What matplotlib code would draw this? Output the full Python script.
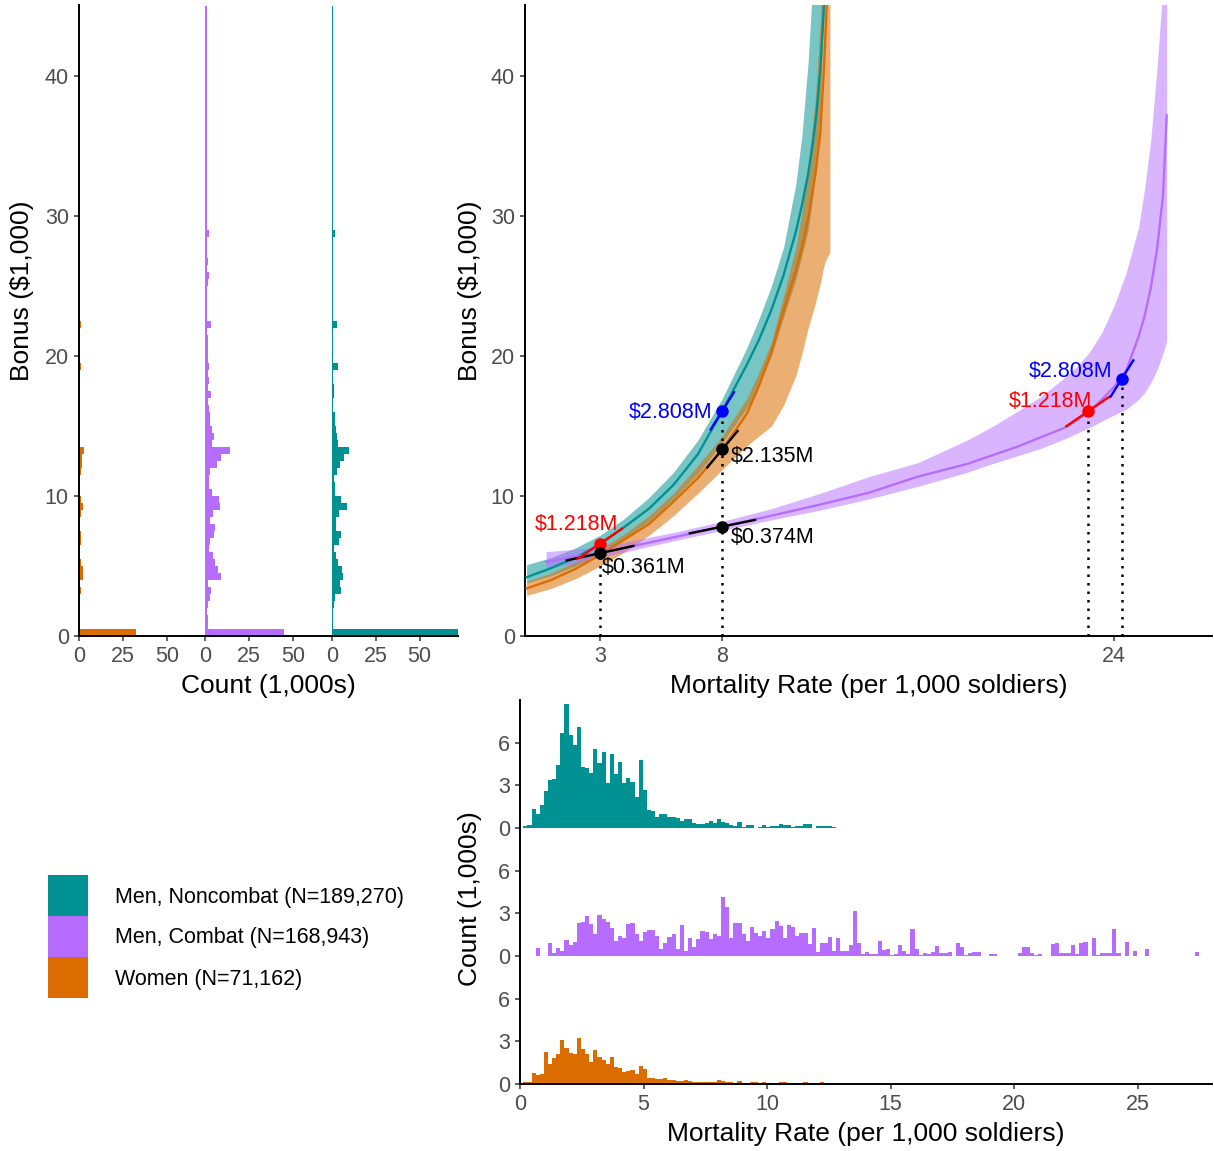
import matplotlib
matplotlib.use("Agg")
import matplotlib.pyplot as plt
from matplotlib.patches import Rectangle
import numpy as np

plt.rcParams['font.family'] = ['Liberation Sans', 'DejaVu Sans']
plt.rcParams['text.parse_math'] = False

TEAL, PURPLE, ORANGE = '#009292', '#B66DFF', '#DB6D00'

# ---------------- data ----------------
groups = ['Men, Noncombat', 'Men, Combat', 'Women']
group_n = ['189,270', '168,943', '71,162']
group_colors = [TEAL, PURPLE, ORANGE]

# bonus histograms (bins of $500, from 0), counts in 1,000s
bonus_bin_width = 0.5
bonus_counts_noncombat = [
    71.8, 1.0, 1.0, 0.9, 1.1, 1.9, 5.1, 4.8, 6.3, 6.0,
    3.6, 2.3, 1.5, 4.2, 5.3, 2.5, 2.5, 4.2, 8.5, 5.1,
    2.0, 1.9, 1.3, 3.2, 4.5, 7.0, 9.7, 3.6, 3.2, 2.3,
    1.7, 1.7, 1.0, 0.95, 1.5, 1.2, 0.8, 0.8, 3.4, 0.6,
    0.7, 0.9, 0.5, 0.5, 3.2, 0.5, 0.5, 0.5, 0.5, 0.5,
    0.5, 0.5, 0.5, 0.5, 0.5, 0.5, 0.5, 1.9, 0.5, 0.5,
    0.5, 0.5, 0.5, 0.5, 0.5, 0.5, 0.5, 0.5, 0.5, 0.5,
    0.5, 0.5, 0.5, 0.5, 0.5, 0.5, 0.5, 0.5, 0.5, 0.5,
    0.5, 0.5, 0.5, 0.5, 0.5, 0.5, 0.5, 0.5, 0.5, 0.5]
bonus_counts_combat = [
    44.9, 1.3, 1.3, 1.2, 1.5, 2.5, 3.4, 1.8, 8.9, 7.2,
    5.5, 4.4, 2.0, 2.8, 4.7, 5.5, 2.7, 4.5, 8.5, 7.6,
    4.0, 2.3, 1.9, 2.8, 6.8, 8.9, 14.2, 3.8, 4.9, 3.8,
    2.5, 2.5, 1.9, 1.6, 3.0, 1.5, 2.1, 1.5, 1.9, 1.7,
    1.3, 1.3, 1.5, 1.2, 3.2, 1.1, 1.1, 1.0, 1.0, 1.1,
    1.7, 1.9, 1.2, 1.5, 1.2, 1.0, 1.2, 2.1, 1.0, 0.9,
    0.9, 0.9, 0.9, 0.9, 0.9, 0.9, 0.9, 0.9, 0.9, 0.9,
    0.9, 0.9, 0.9, 0.9, 0.9, 0.9, 0.9, 0.9, 0.9, 0.9,
    0.9, 0.9, 0.9, 0.9, 0.9, 0.9, 0.9, 0.9, 0.9, 0.9]
bonus_counts_women = [
    32.6, 0.4, 0.4, 0.4, 0.4, 0.5, 1.0, 0.8, 2.5, 2.5,
    0.9, 0.5, 0.6, 1.3, 1.3, 0.5, 0.6, 1.0, 2.5, 1.3,
    0.5, 0.5, 0.8, 1.0, 1.7, 1.7, 2.7, 0.6, 0.5, 0.5,
    0.4, 0.4, 0.4, 0.4, 0.4, 0.4, 0.4, 0.4, 1.0, 0.4,
    0.4, 0.4, 0.4, 0.4, 1.0, 0.4, 0.4, 0.4, 0.4, 0.4,
    0.4, 0.4, 0.4, 0.4, 0.4, 0.4, 0.4, 0.4, 0.4, 0.4,
    0.4, 0.4, 0.4, 0.4, 0.4, 0.4, 0.4, 0.4, 0.4, 0.4,
    0.4, 0.4, 0.4, 0.4, 0.4, 0.4, 0.4, 0.4, 0.4, 0.4,
    0.4, 0.4, 0.4, 0.4, 0.4, 0.4, 0.4, 0.4, 0.4, 0.4]

# mortality-rate histograms, counts in 1,000s
rate_bin_start = 0.133
rate_bin_width = 1 / 6
rate_counts_noncombat = [
    0.14, 0.2, 1.34, 0.96, 1.6, 2.6, 3.38, 3.43, 4.44, 6.67,
    8.73, 6.55, 5.85, 7.14, 4.27, 4.2, 3.85, 5.54, 4.6, 5.33,
    3.19, 5.19, 3.8, 4.67, 3.19, 3.5, 3.26, 2.2, 4.79, 2.68,
    1.27, 1.22, 0.75, 0.99, 0.99, 0.75, 0.8, 0.73, 0.52, 0.61,
    0.61, 0.38, 0.28, 0.28, 0.33, 0.49, 0.33, 0.66, 0.4, 0.33,
    0.21, 0.14, 0.4, 0.1, 0.19, 0.19, 0.0, 0.07, 0.23, 0.1,
    0.12, 0.14, 0.3, 0.19, 0.19, 0.1, 0.12, 0.12, 0.26, 0.26,
    0.0, 0.14, 0.14, 0.14, 0.14, 0.1]
rate_counts_combat = [
    0, 0, 0, 0.59, 0, 0, 0.89, 0.2, 0.59, 0.38,
    1.13, 0.8, 1.0, 2.35, 2.42, 2.82, 2.25, 1.53, 2.89, 2.58,
    2.42, 1.95, 1.08, 1.41, 1.24, 2.25, 2.35, 1.53, 1.08, 1.71,
    1.83, 1.83, 1.41, 0.47, 0.94, 1.31, 1.55, 0.47, 2.18, 0.38,
    1.24, 0.66, 1.17, 1.76, 1.71, 1.17, 1.55, 1.43, 4.13, 3.43,
    1.24, 2.35, 2.3, 1.55, 1.08, 2.07, 1.64, 1.41, 1.76, 1.24,
    1.88, 2.46, 2.11, 1.24, 2.18, 2.02, 1.41, 1.64, 1.64, 0.85,
    1.95, 0.3, 0.89, 0.94, 1.31, 0.38, 1.24, 0.35, 0.38, 0.77,
    3.17, 0.89, 0.14, 0.3, 0.14, 0.14, 1.06, 0.42, 0.49, 0.07,
    0.14, 0.77, 0.38, 0.14, 1.88, 0.49, 0.09, 0.19, 0.14, 0.3,
    0.7, 0.23, 0.23, 0.28, 0.02, 0.89, 0.61, 0.07, 0.19, 0.26,
    0.26, 0, 0, 0.12, 0.12, 0, 0, 0, 0, 0,
    0.23, 0.61, 0.66, 0.19, 0.05, 0.14, 0, 0, 0.85, 0.94,
    0.19, 0.23, 0.23, 0.77, 0.14, 0.94, 0.99, 0, 1.29, 0.07,
    0.23, 0.19, 0.19, 1.88, 0.19, 0, 0.96, 0, 0.35, 0,
    0, 0.47, 0, 0, 0, 0, 0, 0, 0, 0,
    0, 0, 0, 0.26]
rate_counts_women = [
    0.12, 0.12, 0.8, 0.63, 0.7, 2.23, 1.4, 1.81, 2.11, 3.1,
    2.51, 2.2, 2.11, 3.22, 2.5, 2.11, 1.57, 2.39, 1.88, 1.69,
    1.38, 1.92, 1.17, 1.1, 0.87, 0.92, 0.99, 0.7, 1.27, 1.03,
    0.45, 0.45, 0.33, 0.33, 0.4, 0.28, 0.28, 0.21, 0.21, 0.28,
    0.21, 0.12, 0.12, 0.14, 0.14, 0.14, 0.12, 0.28, 0.2, 0.16,
    0.14, 0.09, 0.19, 0.09, 0.09, 0.12, 0.12, 0.07, 0.12, 0.07,
    0.07, 0.07, 0.12, 0.12, 0.05, 0.05, 0.05, 0.05, 0.12, 0.07,
    0.04, 0.04, 0.12, 0.04, 0.04, 0.04]

# fitted bonus curves with uncertainty bands ($1,000)
noncombat_rate = [0, 1, 2, 3, 4, 5, 6, 7, 8, 9, 9.5, 10, 10.5, 11, 11.25, 11.5, 11.7, 11.85, 12.0, 12.15, 12.3]
noncombat_fit = [4.2, 4.85, 5.6, 6.55, 7.8, 9.1, 10.8, 13.0, 16.1, 19.4, 21.2, 23.3, 25.8, 28.9, 30.8, 33.0, 35.3, 37.5, 40.5, 45.0, 52.0]
noncombat_hi = [5.1, 5.6, 6.3, 7.2, 8.4, 9.9, 11.7, 14.0, 17.0, 20.6, 22.7, 25.0, 27.8, 32.3, 35.8, 41.0, 47.0, 52.0, 58.0, 64.0, 70.0]
noncombat_lo = [3.8, 4.3, 5.0, 5.95, 7.0, 8.2, 9.8, 11.6, 13.8, 16.3, 18.0, 20.0, 22.8, 25.5, 27.2, 29.0, 31.5, 34.0, 38.0, 46.0, 52.0]

women_rate = [0, 1, 2, 3, 4, 5, 6, 7, 8, 9, 9.5, 10, 10.5, 11, 11.25, 11.5, 11.8, 12.0, 12.15, 12.26, 12.39]
women_fit = [3.4, 4.0, 4.8, 5.8, 6.9, 8.0, 9.6, 11.3, 13.35, 15.9, 17.9, 20.3, 23.3, 26.1, 27.8, 29.8, 33.0, 36.0, 40.7, 45.0, 52.0]
women_hi = [3.9, 4.5, 5.3, 6.2, 7.3, 8.6, 10.2, 12.2, 14.3, 17.0, 18.9, 21.0, 24.3, 27.8, 30.3, 33.5, 38.5, 44.0, 50.0, 55.0, 60.0]
women_lo = [2.9, 3.4, 4.1, 5.0, 6.0, 7.2, 8.6, 10.2, 11.9, 13.6, 14.3, 15.0, 16.5, 18.6, 20.2, 22.0, 23.8, 25.2, 26.5, 27.0, 27.4]

combat_rate = [0.8, 2, 3, 4, 6, 8, 10, 12, 14, 16, 18, 19, 20, 21, 22, 22.5, 23, 23.5, 24, 24.5, 25, 25.25, 25.5, 25.75, 26.0, 26.15]
combat_fit = [5.3, 5.68, 5.92, 6.3, 7.05, 7.82, 8.6, 9.4, 10.25, 11.4, 12.3, 12.9, 13.5, 14.2, 14.9, 15.45, 16.05, 16.9, 17.8, 19.0, 21.4, 22.9, 24.9, 27.6, 31.5, 37.2]
combat_hi = [6.03, 6.2, 6.4, 6.7, 7.4, 8.2, 9.1, 10.2, 11.4, 12.4, 14.0, 14.95, 16.0, 17.1, 18.5, 19.3, 20.3, 21.7, 23.6, 26.0, 29.2, 32.0, 35.5, 40.5, 46.5, 52.0]
combat_lo = [4.84, 5.2, 5.6, 6.0, 6.8, 7.55, 8.3, 9.0, 9.8, 10.7, 11.7, 12.3, 12.85, 13.4, 14.1, 14.5, 14.9, 15.35, 15.8, 16.2, 16.9, 17.4, 18.1, 19.0, 20.2, 21.05]

# marked points: rate, bonus, local slope, half-span of tangent, colour, label
mark_rate = [3, 3, 8, 8, 8, 22.93, 24.32]
mark_bonus = [6.6, 5.92, 16.1, 13.35, 7.82, 16.05, 18.4]
mark_slope = [1.19, 0.38, 2.8, 2.1, 0.36, 1.2, 2.8]
mark_half = [0.95, 1.41, 0.5, 0.65, 1.38, 0.92, 0.49]
mark_color = ['red', 'black', 'blue', 'black', 'black', 'red', 'blue']
mark_label = ['$1.218M', '$0.361M', '$2.808M', '$2.135M', '$0.374M', '$1.218M', '$2.808M']
rate_ticks = [3, 8, 24]

# ---------------- layout helpers ----------------
W, H = 1214, 1151
fig = plt.figure(figsize=(W / 100, H / 100), dpi=100)


def rect(x0, y0, x1, y1):
    return [x0 / W, 1 - y1 / H, (x1 - x0) / W, (y1 - y0) / H]


def style(ax, left=True, bottom=True):
    for s in ['top', 'right']:
        ax.spines[s].set_visible(False)
    ax.spines['left'].set_visible(left)
    ax.spines['bottom'].set_visible(bottom)
    for s in ['left', 'bottom']:
        ax.spines[s].set_linewidth(1.4)
        ax.spines[s].set_color('black')
    ax.tick_params(length=3.8, width=1.1, color='#333333', labelcolor='#4D4D4D',
                   labelsize=15.5, pad=3.5)
    ax.patch.set_alpha(0)


def ftext(x, y, s, **kw):
    fig.text(x / W, 1 - y / H, s, **kw)


TITLE = 19
YMAX = 45.1

# ---------------- left: bonus histograms ----------------
bonus_sets = [bonus_counts_women, bonus_counts_combat, bonus_counts_noncombat]
bonus_cols = [ORANGE, PURPLE, TEAL]
facet_x = [(79, 205.3), (205.3, 331.7), (331.7, 458)]
for k, (counts, col, (x0, x1)) in enumerate(zip(bonus_sets, bonus_cols, facet_x)):
    ax = fig.add_axes(rect(x0, 5, x1, 636))
    edges = np.arange(len(counts)) * bonus_bin_width
    ax.barh(edges, counts, height=bonus_bin_width, align='edge', color=col, lw=0)
    ax.set_xlim(0, 71.8)
    ax.set_ylim(0, YMAX)
    ax.set_xticks([0, 25, 50])
    style(ax, left=(k == 0))
    if k == 0:
        ax.set_yticks([0, 10, 20, 30, 40])
    else:
        ax.set_yticks([])

ftext(268, 686, 'Count (1,000s)', ha='center', va='center', fontsize=TITLE)
ftext(22, 291, 'Bonus ($1,000)', ha='center', va='center', fontsize=TITLE, rotation=90)

# ---------------- main: bonus vs mortality ----------------
axm = fig.add_axes(rect(525, 5, 1212, 636))
axm.fill_between(noncombat_rate, noncombat_lo, noncombat_hi, color=TEAL, alpha=0.53, lw=0, zorder=1)
axm.fill_between(women_rate, women_lo, women_hi, color=ORANGE, alpha=0.55, lw=0, zorder=1.1)
axm.fill_between(combat_rate, combat_lo, combat_hi, color=PURPLE, alpha=0.5, lw=0, zorder=1.2)

axm.plot(noncombat_rate, noncombat_fit, color=TEAL, lw=1.7, zorder=4)
axm.plot(women_rate, women_fit, color=ORANGE, lw=1.7, zorder=4)
axm.plot(combat_rate, combat_fit, color=PURPLE, lw=1.7, zorder=4)

for xr, yv, c, hw, col in zip(mark_rate, mark_bonus, mark_slope, mark_half, mark_color):
    xs = [xr - hw, xr + hw]
    ys = [yv - c * hw, yv + c * hw]
    axm.plot(xs, ys, color=col, lw=1.7, solid_capstyle='butt',
             zorder=5 if col == 'black' else 6)

# dotted drop lines from the highest marked point at each rate
for xr in sorted(set(mark_rate)):
    top = max(b for r, b in zip(mark_rate, mark_bonus) if r == xr)
    axm.plot([xr, xr], [0, top], color='black', lw=1.8, ls=(0, (1, 2.4)), zorder=5)

for xr, yv, col in zip(mark_rate, mark_bonus, mark_color):
    axm.plot(xr, yv, 'o', color=col, ms=8, zorder=7)

label_offsets = [(13, 14, 'right'), (1.5, -10, 'left'), (-7, -1.5, 'right'),
                 (6, -5, 'left'), (6, -7.5, 'left'), (3, 7, 'right'), (-7, 5, 'right')]
for xr, yv, col, lab, (dx, dy, ha) in zip(mark_rate, mark_bonus, mark_color, mark_label, label_offsets):
    axm.annotate(lab, (xr, yv), xytext=(dx, dy), textcoords='offset points',
                 ha=ha, va='center', color=col, fontsize=15.5, zorder=8)

axm.set_xlim(-0.065, 28.0)
axm.set_ylim(0, YMAX)
axm.set_xticks(rate_ticks)
axm.set_yticks([0, 10, 20, 30, 40])
style(axm)
ftext(869, 686, 'Mortality Rate (per 1,000 soldiers)', ha='center', va='center', fontsize=TITLE)
ftext(470, 291, 'Bonus ($1,000)', ha='center', va='center', fontsize=TITLE, rotation=90)

# ---------------- bottom: mortality-rate histograms ----------------
rate_sets = [rate_counts_noncombat, rate_counts_combat, rate_counts_women]
rate_cols = [TEAL, PURPLE, ORANGE]
facet_y = [(700, 828), (828, 956), (956, 1084)]
for k, (counts, col, (y0, y1)) in enumerate(zip(rate_sets, rate_cols, facet_y)):
    ax = fig.add_axes(rect(520, y0, 1212, y1))
    edges = rate_bin_start + np.arange(len(counts)) * rate_bin_width
    ax.bar(edges, counts, width=rate_bin_width, align='edge', color=col, lw=0)
    ax.set_xlim(0, 28.0)
    ax.set_ylim(0, 9.03)
    ax.set_yticks([0, 3, 6])
    last = (k == 2)
    style(ax, left=True, bottom=last)
    if last:
        ax.set_xticks([0, 5, 10, 15, 20, 25])
    else:
        ax.set_xticks([])

ftext(866, 1134, 'Mortality Rate (per 1,000 soldiers)', ha='center', va='center', fontsize=TITLE)
ftext(470, 899, 'Count (1,000s)', ha='center', va='center', fontsize=TITLE, rotation=90)

# ---------------- legend ----------------
key_top = [875, 916, 957]
for g, n, col, yt in zip(groups, group_n, group_colors, key_top):
    fig.add_artist(Rectangle((48 / W, 1 - (yt + 41) / H), 40 / W, 41 / H,
                             transform=fig.transFigure, color=col, lw=0))
    ftext(115, yt + 22, f'{g} (N={n})', ha='left', va='center', fontsize=15.5)

fig.savefig('out.png', dpi=100)
